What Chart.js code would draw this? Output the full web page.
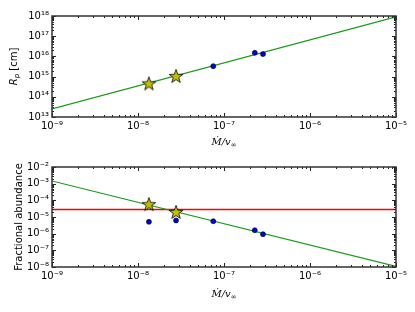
<!DOCTYPE html>
<html lang="en">
<head>
    <meta charset="UTF-8">
    <title>Radius and abundance vs Mdot/v</title>
    <script src="https://cdn.jsdelivr.net/npm/chart.js@4.4.3/dist/chart.umd.min.js"></script>
    <style>
        body { margin: 0; background: #fff; }
        canvas { position: absolute; left: 0; }
        #top { top: 0; }
        #bottom { top: 150px; }
    </style>
</head>
<body>
    <canvas id="top" width="415" height="150"></canvas>
    <canvas id="bottom" width="415" height="162"></canvas>
    <script>
        // tick values
        const xTicks = [1e-9, 1e-8, 1e-7, 1e-6, 1e-5];
        const radiusTicks = [1e13, 1e14, 1e15, 1e16, 1e17, 1e18];
        const abundTicks = [1e-8, 1e-7, 1e-6, 1e-5, 1e-4, 1e-3, 1e-2];

        // fitted lines (end points)
        const fitX = [1e-9, 1e-5];
        const radiusFit = [2.5e13, 9e17];
        const abundFit = [1.45e-3, 1.1e-8];
        const abundLimit = [2.8e-5, 2.8e-5];

        // stars
        const starX = [1.34e-8, 2.77e-8];
        const starRadius = [4.6e14, 1.07e15];
        const starAbund = [5.9e-5, 2.0e-5];

        // blue dots
        const dotXTop = [7.5e-8, 2.28e-7, 2.84e-7];
        const dotRadius = [3.3e15, 1.5e16, 1.3e16];
        const dotX = [1.34e-8, 2.77e-8, 7.5e-8, 2.28e-7, 2.84e-7];
        const dotAbund = [5.1e-6, 6.2e-6, 5.6e-6, 1.6e-6, 9.3e-7];

        const sup = { '-': '\u207B', '0': '\u2070', '1': '\u00B9', '2': '\u00B2', '3': '\u00B3',
            '4': '\u2074', '5': '\u2075', '6': '\u2076', '7': '\u2077', '8': '\u2078', '9': '\u2079' };
        function powLabel(v) {
            const e = String(Math.round(Math.log10(v)));
            return '10' + e.split('').map(c => sup[c]).join('');
        }

        function pts(xs, ys) {
            return xs.map((x, i) => ({ x: x, y: ys[i] }));
        }

        // filled five point star used as point style
        const star = document.createElement('canvas');
        star.width = 18; star.height = 18;
        (function () {
            const c = star.getContext('2d');
            const R = 7.2, r = 2.9;
            c.beginPath();
            for (let i = 0; i < 10; i++) {
                const a = -Math.PI / 2 + i * Math.PI / 5;
                const rad = i % 2 === 0 ? R : r;
                c.lineTo(9 + rad * Math.cos(a), 9.6 + rad * Math.sin(a));
            }
            c.closePath();
            c.fillStyle = '#bfbf00';
            c.fill();
            c.lineWidth = 0.8;
            c.strokeStyle = '#000';
            c.stroke();
        })();

        function drawRich(ctx, parts, cx, cy, vertical) {
            ctx.save();
            ctx.translate(cx, cy);
            if (vertical) ctx.rotate(-Math.PI / 2);
            ctx.textBaseline = 'middle';
            ctx.fillStyle = '#000';
            let w = 0;
            parts.forEach(p => { ctx.font = p.font; w += ctx.measureText(p.text).width; });
            let x = -w / 2;
            parts.forEach(p => {
                ctx.font = p.font;
                ctx.fillText(p.text, x, p.dy || 0);
                x += ctx.measureText(p.text).width;
            });
            ctx.restore();
        }

        function frameAndTicks(yTicks) {
            return {
                id: 'frameAndTicks',
                afterDraw(chart) {
                    const ctx = chart.ctx;
                    const a = chart.chartArea;
                    const xs = chart.scales.x, ys = chart.scales.y;
                    ctx.save();
                    ctx.strokeStyle = '#222';
                    ctx.lineWidth = 1;
                    ctx.beginPath();
                    // minor and major ticks on all four sides, pointing inward
                    for (let i = 0; i < xTicks.length; i++) {
                        for (let k = 1; k <= 9; k++) {
                            if (i === xTicks.length - 1 && k > 1) break;
                            const px = Math.round(xs.getPixelForValue(xTicks[i] * k)) + 0.5;
                            const len = k === 1 ? 4 : 2;
                            ctx.moveTo(px, a.bottom); ctx.lineTo(px, a.bottom - len);
                            ctx.moveTo(px, a.top); ctx.lineTo(px, a.top + len);
                        }
                    }
                    for (let i = 0; i < yTicks.length; i++) {
                        for (let k = 1; k <= 9; k++) {
                            if (i === yTicks.length - 1 && k > 1) break;
                            const py = Math.round(ys.getPixelForValue(yTicks[i] * k)) + 0.5;
                            const len = k === 1 ? 4 : 2;
                            ctx.moveTo(a.left, py); ctx.lineTo(a.left + len, py);
                            ctx.moveTo(a.right, py); ctx.lineTo(a.right - len, py);
                        }
                    }
                    ctx.stroke();
                    ctx.lineWidth = 1.5;
                    ctx.strokeStyle = '#333';
                    ctx.strokeRect(a.left, a.top, a.right - a.left, a.bottom - a.top);
                    ctx.restore();
                }
            };
        }

        function titles(yParts, yx, xy) {
            return {
                id: 'titles',
                afterDraw(chart) {
                    const a = chart.chartArea;
                    drawRich(chart.ctx, yParts, yx, (a.top + a.bottom) / 2, true);
                    drawRich(chart.ctx, [
                        { text: '\u1E40/v', font: 'italic 10px "DejaVu Serif"' },
                        { text: '\u221E', font: '7px "DejaVu Serif"', dy: 3 }
                    ], (a.left + a.right) / 2, xy, false);
                }
            };
        }

        function scaleOptions(ticks, fixed) {
            return {
                type: 'logarithmic',
                min: ticks[0],
                max: ticks[ticks.length - 1],
                grid: { display: false, drawTicks: false },
                border: { display: false },
                afterBuildTicks: (s) => { s.ticks = ticks.map(v => ({ value: v })); },
                afterFit: fixed,
                ticks: {
                    callback: (v) => powLabel(v),
                    color: '#000',
                    font: { family: 'DejaVu Sans', size: 10 },
                    padding: 3,
                    maxRotation: 0,
                    autoSkip: false
                }
            };
        }

        function makeConfig(datasets, yTicks, padTop, xHeight, plugins) {
            return {
                type: 'line',
                data: { datasets: datasets },
                plugins: plugins,
                options: {
                    responsive: false,
                    animation: false,
                    layout: { padding: { top: padTop, right: 19, left: 0, bottom: 0 } },
                    plugins: { legend: { display: false }, tooltip: { enabled: false } },
                    scales: {
                        x: scaleOptions(xTicks, (s) => { s.height = xHeight; }),
                        y: scaleOptions(yTicks, (s) => { s.width = 52; })
                    }
                }
            };
        }

        const lineStyle = { showLine: true, pointRadius: 0, borderWidth: 1.2, order: 2 };
        const starStyle = { showLine: false, pointStyle: star, pointRadius: 8, order: 0 };
        const dotStyle = {
            showLine: false, pointStyle: 'circle', pointRadius: 2.5,
            backgroundColor: '#0000e0', borderColor: '#000', borderWidth: 0.6, order: 1
        };

        new Chart(document.getElementById('top'), makeConfig([
            Object.assign({ data: pts(fitX, radiusFit), borderColor: '#1a9a1a' }, lineStyle),
            Object.assign({ data: pts(dotXTop, dotRadius) }, dotStyle),
            Object.assign({ data: pts(starX, starRadius) }, starStyle)
        ], radiusTicks, 16, 33, [frameAndTicks(radiusTicks), titles([
            { text: 'R', font: 'italic 10px "DejaVu Sans"' },
            { text: 'p', font: 'italic 7px "DejaVu Sans"', dy: 3 },
            { text: ' [cm]', font: '10px "DejaVu Sans"' }
        ], 14, 142)]));

        new Chart(document.getElementById('bottom'), makeConfig([
            Object.assign({ data: pts(fitX, abundFit), borderColor: '#1a9a1a' }, lineStyle),
            Object.assign({ data: pts(fitX, abundLimit), borderColor: 'rgb(255,0,0)', borderWidth: 1.4 }, lineStyle, { borderWidth: 1.4 }),
            Object.assign({ data: pts(dotX, dotAbund) }, dotStyle),
            Object.assign({ data: pts(starX, starAbund) }, starStyle)
        ], abundTicks, 17, 45, [frameAndTicks(abundTicks), titles([
            { text: 'Fractional abundance', font: '10px "DejaVu Sans"' }
        ], 19, 144)]));
    </script>
</body>
</html>
